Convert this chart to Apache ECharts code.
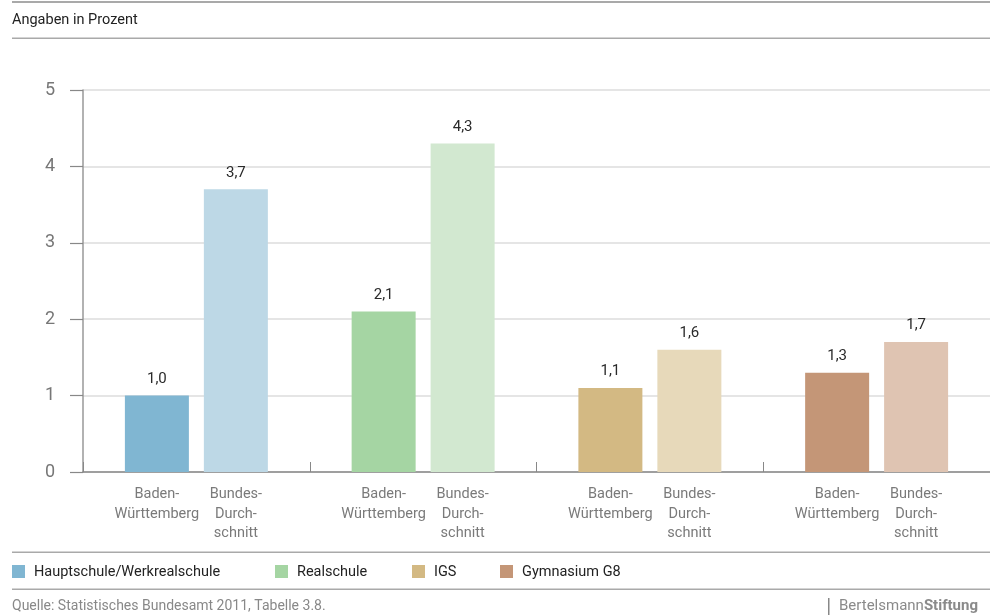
<!DOCTYPE html>
<html>
<head>
<meta charset="utf-8">
<script src="https://cdn.jsdelivr.net/npm/echarts@6/dist/echarts.min.js"></script>
<style>
  html, body { margin: 0; padding: 0; background: #fff; }
  #chart { width: 990px; height: 616px; }
</style>
</head>
<body>
<div id="chart"></div>
<script>
// School types (one group per type on the x axis)
const schoolTypes = ['Hauptschule/Werkrealschule', 'Realschule', 'IGS', 'Gymnasium G8'];
// Rates in percent
const valuesBW = [1.0, 2.1, 1.1, 1.3];
const valuesBund = [3.7, 4.3, 1.6, 1.7];
// Colours: darker shade for Baden-Württemberg, lighter for Bundesdurchschnitt
const colorsBW = ['#80b6d2', '#a5d5a3', '#d3b983', '#c49677'];
const colorsBund = ['#bdd8e6', '#d2e8d0', '#e7d9ba', '#dfc4b2'];
const yTicks = [0, 1, 2, 3, 4, 5];

const FONT = '"Roboto", "Liberation Sans", sans-serif';

const fmt = v => v.toFixed(1).replace('.', ',');

const chart = echarts.init(document.getElementById('chart'));

const legendX = [12, 275, 412, 500];
const graphics = [
  { type: 'rect', shape: { x: 12, y: 1, width: 978, height: 2 }, style: { fill: '#a9a9a9' }, silent: true },
  { type: 'text', x: 12, y: 13, style: { text: 'Angaben in Prozent', font: '14.5px ' + FONT, fill: '#222' } },
  { type: 'rect', shape: { x: 12, y: 37.5, width: 978, height: 1.5 }, style: { fill: '#a9a9a9' }, silent: true },
  { type: 'rect', shape: { x: 12, y: 551.5, width: 978, height: 1.5 }, style: { fill: '#a9a9a9' }, silent: true },
  { type: 'rect', shape: { x: 12, y: 588.5, width: 978, height: 1.5 }, style: { fill: '#a9a9a9' }, silent: true },
  { type: 'text', x: 12, y: 599, style: { text: 'Quelle: Statistisches Bundesamt 2011, Tabelle 3.8.', font: '14px ' + FONT, fill: '#888' } },
  { type: 'rect', shape: { x: 828, y: 598, width: 1.5, height: 17 }, style: { fill: '#888' } },
  { type: 'text', x: 839, y: 599, style: {
      text: '{a|Bertelsmann}{b|Stiftung}',
      rich: {
        a: { font: '15px ' + FONT, fill: '#8a8a8a' },
        b: { font: 'bold 15px ' + FONT, fill: '#8a8a8a' }
      }
  } }
];
schoolTypes.forEach((name, i) => {
  graphics.push({ type: 'rect', shape: { x: legendX[i], y: 565, width: 13, height: 13 }, style: { fill: colorsBW[i] } });
  graphics.push({ type: 'text', x: legendX[i] + 22, y: 565, style: { text: name, font: '14.5px ' + FONT, fill: '#222' } });
});

chart.setOption({
  animation: false,
  grid: { left: 83, right: 0, top: 90, bottom: 144, containLabel: false },
  graphic: graphics,
  xAxis: {
    type: 'category',
    data: schoolTypes,
    axisLine: { lineStyle: { color: '#888', width: 1.5 } },
    axisTick: { show: true, inside: true, length: 10, lineStyle: { color: '#888' } },
    axisLabel: {
      margin: 13,
      interval: 0,
      formatter: () => '{a|Baden-}{b|Bundes-}\n{a|Württemberg}{b|Durch-}\n{a| }{b|schnitt}',
      rich: {
        a: { width: 79, align: 'center', fontFamily: FONT, fontSize: 14.5, color: '#7a7a7a', lineHeight: 19.5 },
        b: { width: 79, align: 'center', fontFamily: FONT, fontSize: 14.5, color: '#7a7a7a', lineHeight: 19.5 }
      }
    }
  },
  yAxis: {
    type: 'value',
    min: yTicks[0],
    max: yTicks[yTicks.length - 1],
    interval: 1,
    axisLine: { show: true, lineStyle: { color: '#999', width: 1.5 } },
    axisTick: { show: true, length: 13, lineStyle: { color: '#888', width: 1.2 } },
    axisLabel: { margin: 28, fontFamily: FONT, fontSize: 18, color: '#777' },
    splitLine: { lineStyle: { color: '#dcdcdc', width: 1.5 } }
  },
  series: [
    {
      name: 'Baden-Württemberg',
      type: 'bar',
      barWidth: 64,
      barGap: '23.4%',
      data: valuesBW.map((v, i) => ({ value: v, itemStyle: { color: colorsBW[i] } })),
      label: { show: true, position: 'top', distance: 9, formatter: p => fmt(p.value), fontFamily: FONT, fontSize: 15, color: '#2a2a2a' }
    },
    {
      name: 'Bundesdurchschnitt',
      type: 'bar',
      barWidth: 64,
      barGap: '23.4%',
      data: valuesBund.map((v, i) => ({ value: v, itemStyle: { color: colorsBund[i] } })),
      label: { show: true, position: 'top', distance: 9, formatter: p => fmt(p.value), fontFamily: FONT, fontSize: 15, color: '#2a2a2a' }
    }
  ]
});
</script>
</body>
</html>
